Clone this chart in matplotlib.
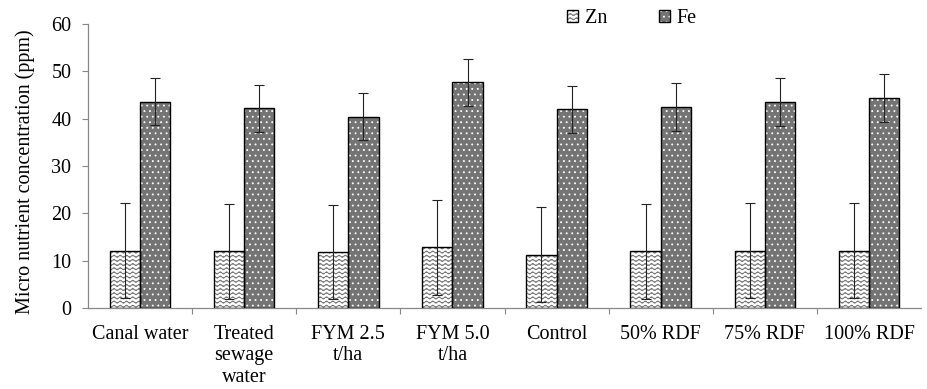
import numpy as np
import matplotlib
matplotlib.use("Agg")
import matplotlib.pyplot as plt
import matplotlib.hatch as mhatch
from matplotlib.path import Path
from matplotlib.legend_handler import HandlerTuple

categories = ["Canal water", "Treated\nsewage\nwater", "FYM 2.5\nt/ha", "FYM 5.0\nt/ha",
              "Control", "50% RDF", "75% RDF", "100% RDF"]
zn = [12.1, 12.0, 11.8, 12.8, 11.3, 12.0, 12.1, 12.1]
zn_err = [10.0, 10.0, 10.0, 10.0, 10.0, 10.0, 10.0, 10.0]
fe = [43.6, 42.2, 40.4, 47.7, 42.0, 42.5, 43.5, 44.4]
fe_err = [5.0, 5.0, 5.0, 5.0, 5.0, 5.0, 5.0, 5.0]
yticks = [0, 10, 20, 30, 40, 50, 60]


# wavy hatch pattern (replaces the '|' hatch)
class WaveHatch(mhatch.HatchPatternBase):
    npts = 16 * 8 + 1

    def __init__(self, hatch, density):
        self.num_lines = int(hatch.count('|') * density)
        self.num_vertices = self.num_lines * self.npts

    def set_vertices_and_codes(self, vertices, codes):
        steps, stepsize = np.linspace(0.0, 1.0, self.num_lines, False, retstep=True)
        steps += stepsize / 2.
        xs = np.linspace(0, 1, self.npts)
        wave = 0.011 * np.sin(2 * np.pi * 16 * xs)
        for i, s in enumerate(steps):
            sl = slice(i * self.npts, (i + 1) * self.npts)
            vertices[sl, 0] = xs
            vertices[sl, 1] = s + wave
            codes[sl] = Path.LINETO
            codes[i * self.npts] = Path.MOVETO


mhatch._hatch_types = [WaveHatch if t is mhatch.VerticalHatch else t
                       for t in mhatch._hatch_types]

plt.rcParams['font.family'] = ['Liberation Serif', 'DejaVu Serif']
plt.rcParams['hatch.linewidth'] = 0.6

FS = 14.5

fig = plt.figure(figsize=(9.27, 3.89), dpi=100)
ax = fig.add_axes([88 / 927, (389 - 308) / 389, (921 - 88) / 927, (308 - 24) / 389])

x = np.arange(len(categories))
w = 0.29

zn_fill = ax.bar(x - w / 2, zn, w, color='white', edgecolor='#6e6e6e', linewidth=0,
                 hatch='||||', zorder=2)
zn_edge = ax.bar(x - w / 2, zn, w, fill=False, edgecolor='black', linewidth=1.0, zorder=3)
fe_fill = ax.bar(x + w / 2, fe, w, color='#747474', edgecolor='white', linewidth=0,
                 hatch='...', zorder=2)
fe_edge = ax.bar(x + w / 2, fe, w, fill=False, edgecolor='black', linewidth=1.0, zorder=3)

ax.errorbar(x - w / 2, zn, yerr=zn_err, fmt='none', ecolor='#222222', elinewidth=0.8,
            capsize=3.5, capthick=0.8, zorder=4)
ax.errorbar(x + w / 2, fe, yerr=fe_err, fmt='none', ecolor='#222222', elinewidth=0.8,
            capsize=3.5, capthick=0.8, zorder=4)

ax.set_xlim(-0.5, len(categories) - 0.5)
ax.set_ylim(0, 60)
ax.set_yticks(yticks)
ax.set_xticks(x)
ax.set_xticklabels(categories, fontsize=FS, linespacing=1.2, va='top')
ax.set_xticks(x[:-1] + 0.5, minor=True)
ax.tick_params(axis='x', which='major', length=0, pad=12)
ax.tick_params(axis='x', which='minor', length=4, width=0.8, color='#888888', direction='out')
ax.tick_params(axis='y', labelsize=FS, length=4, width=0.8, color='#888888', pad=8)

for side in ['top', 'right']:
    ax.spines[side].set_visible(False)
for side in ['left', 'bottom']:
    ax.spines[side].set_color('#888888')
    ax.spines[side].set_linewidth(0.9)

ax.set_ylabel('Micro nutrient concentration (ppm)', fontsize=FS)
ax.yaxis.set_label_coords(-0.064, 0.48)

ax.legend([(zn_fill[0], zn_edge[0]), (fe_fill[0], fe_edge[0])], ['Zn', 'Fe'],
          handler_map={tuple: HandlerTuple(ndivide=1, pad=0)},
          loc='center', bbox_to_anchor=(0.653, 1.02), ncol=2, frameon=False,
          fontsize=FS, handlelength=0.55, handleheight=0.55, handletextpad=0.3,
          columnspacing=2.6, borderpad=0)

fig.savefig('out.png', dpi=100)
